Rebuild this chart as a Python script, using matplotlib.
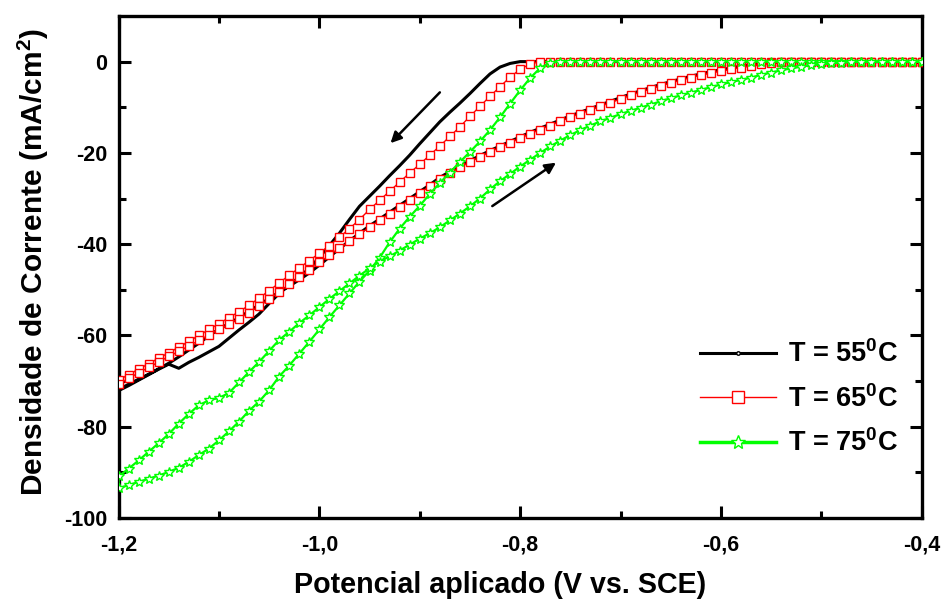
import numpy as np
import matplotlib
matplotlib.use("Agg")
import matplotlib.pyplot as plt
from matplotlib.lines import Line2D

plt.rcParams['font.family'] = ['Liberation Sans', 'DejaVu Sans']
plt.rcParams['font.weight'] = 'bold'
plt.rcParams['mathtext.fontset'] = 'custom'
plt.rcParams['mathtext.rm'] = 'Liberation Sans:bold'
plt.rcParams['mathtext.bf'] = 'Liberation Sans:bold'
plt.rcParams['mathtext.default'] = 'bf'
plt.rcParams['axes.unicode_minus'] = False

# potential grid (V vs SCE), -1.20 ... -0.40
potential = np.round(np.arange(-1.20, -0.395, 0.01), 2)

# T = 55 C : cathodic (forward) sweep and return sweep, values ordered from -1.20 to -0.40
j55_forward = [-72.1, -71.0, -69.8, -68.6, -67.4, -66.3, -67.2, -65.9, -64.8, -63.6,
               -62.4, -60.6, -58.8, -57.1, -55.3, -53.0, -50.8, -49.0, -47.2, -45.3,
               -42.9, -40.3, -37.6, -34.6, -31.7, -29.5, -27.3, -25.0, -22.8, -20.5,
               -18.0, -15.6, -13.2, -11.1, -9.1, -7.0, -4.8, -2.7, -1.2, -0.4] + [0.0] * 41
j55_return = [-71.9, -70.7, -69.6, -68.5, -67.3, -66.1, -64.7, -63.2, -61.7, -60.1,
              -58.6, -57.4, -56.1, -54.7, -53.3, -51.9, -50.5, -49.2, -47.8, -46.3,
              -44.6, -42.8, -41.0, -39.3, -37.6, -36.0, -34.5, -33.0, -31.5, -30.0,
              -28.5, -27.0, -25.4, -24.1, -22.9, -21.7, -20.6, -19.5, -18.5, -17.5,
              -16.5, -15.5, -14.6, -13.7, -12.8, -11.9, -11.1, -10.3, -9.5, -8.7,
              -7.9, -7.1, -6.4, -5.7, -5.0, -4.4, -3.8, -3.2, -2.7, -2.2,
              -1.8, -1.4, -1.0, -0.7, -0.4, -0.2] + [0.0] * 15

# T = 65 C
j65_forward = [-69.8, -68.6, -67.4, -66.2, -65.0, -63.8, -62.6, -61.3, -60.0, -58.7,
               -57.4, -56.1, -54.8, -53.4, -51.8, -50.2, -48.5, -46.8, -45.2, -43.6,
               -42.0, -40.3, -38.5, -36.6, -34.6, -32.4, -30.4, -28.4, -26.4, -24.4,
               -22.5, -20.5, -18.5, -16.4, -14.3, -12.0, -9.8, -7.6, -5.5, -3.4,
               -1.7, -0.5] + [0.0] * 39
j65_return = [-70.6, -69.4, -68.2, -67.0, -65.8, -64.6, -63.5, -62.3, -61.1, -59.9,
              -58.7, -57.5, -56.3, -55.0, -53.6, -52.0, -50.5, -48.8, -47.2, -45.6,
              -44.0, -42.4, -40.9, -39.4, -37.8, -36.3, -34.8, -33.3, -31.8, -30.3,
              -28.8, -27.3, -25.8, -24.5, -23.2, -22.0, -20.9, -19.8, -18.8, -17.8,
              -16.8, -15.8, -14.9, -14.0, -13.1, -12.2, -11.4, -10.6, -9.8, -9.0,
              -8.2, -7.4, -6.7, -6.0, -5.3, -4.7, -4.1, -3.5, -3.0, -2.5,
              -2.1, -1.7, -1.3, -1.0, -0.6, -0.3, -0.1] + [0.0] * 14

# T = 75 C
j75_forward = [-93.5, -92.8, -92.1, -91.4, -90.7, -89.9, -89.0, -87.7, -86.2, -84.8,
               -83.0, -81.0, -78.9, -76.5, -74.5, -72.0, -69.0, -66.6, -64.0, -61.4,
               -58.7, -56.0, -53.4, -50.8, -48.2, -45.8, -43.0, -39.6, -36.6, -34.0,
               -31.6, -29.0, -26.6, -24.3, -22.0, -19.8, -17.5, -15.0, -12.2, -9.2,
               -6.3, -3.6, -1.4, -0.2] + [0.0] * 37
j75_return = [-90.9, -89.2, -87.4, -85.5, -83.6, -81.6, -79.3, -77.2, -75.3, -74.2,
              -73.7, -72.6, -70.3, -68.0, -65.8, -63.4, -61.0, -59.2, -57.3, -55.6,
              -53.8, -52.0, -50.3, -48.6, -46.9, -45.3, -43.8, -42.7, -41.4, -40.1,
              -38.8, -37.6, -36.3, -34.8, -33.3, -31.7, -30.0, -28.0, -26.2, -24.6,
              -23.0, -21.5, -20.0, -18.6, -17.3, -16.1, -15.0, -14.0, -13.1, -12.3,
              -11.5, -10.8, -10.1, -9.4, -8.7, -8.0, -7.4, -6.8, -6.2, -5.6,
              -5.0, -4.5, -4.0, -3.5, -2.9, -2.4, -1.9, -1.5, -1.1, -0.8,
              -0.6, -0.4, -0.2, -0.1] + [0.0] * 7

labels = [r'T = 55$^0$C', r'T = 65$^0$C', r'T = 75$^0$C']
xticks = [-1.2, -1.0, -0.8, -0.6, -0.4]
xticklabels = ['-1,2', '-1,0', '-0,8', '-0,6', '-0,4']
yticks = [0, -20, -40, -60, -80, -100]

GREEN = '#00ff00'


def loop(fwd, ret):
    x = np.concatenate([potential[::-1], potential])
    y = np.concatenate([np.array(fwd)[::-1], np.array(ret)])
    return x, y


fig = plt.figure(figsize=(9.43, 6.03), dpi=100)
ax = fig.add_axes([0.1257, 0.141, 0.8517, 0.8325])

x55, y55 = loop(j55_forward, j55_return)
x65, y65 = loop(j65_forward, j65_return)
x75, y75 = loop(j75_forward, j75_return)

ax.plot(x55, y55, color='black', lw=2.2, zorder=2)
ax.plot(x65, y65, color='red', lw=1.0, marker='s', ms=6.3, mfc='white', mec='red', mew=1.0, zorder=3)
ax.plot(x75, y75, color=GREEN, lw=1.6, marker='*', ms=7.5, mfc='white', mec=GREEN, mew=1.0, zorder=4)

ax.set_xlim(-1.2, -0.4)
ax.set_ylim(-100, 10)
ax.set_xticks(xticks)
ax.set_xticklabels(xticklabels)
ax.set_xticks(np.arange(-1.1, -0.4, 0.2), minor=True)
ax.set_yticks(yticks)
ax.set_yticks(np.arange(-90, 10, 20), minor=True)
ax.tick_params(which='both', direction='in', top=True, right=True, width=2.2,
               labelsize=15.5)
ax.tick_params(which='major', length=8.5)
ax.tick_params(which='minor', length=5)
ax.tick_params(axis='x', which='major', pad=12)
ax.tick_params(axis='y', which='major', pad=8)
for s in ax.spines.values():
    s.set_linewidth(2.4)
for lab in ax.get_xticklabels() + ax.get_yticklabels():
    lab.set_fontweight('bold')

ax.set_xlabel('Potencial aplicado (V vs. SCE)', fontsize=20.6, fontweight='bold')
ax.xaxis.set_label_coords(0.475, -0.105)
ax.set_ylabel(r'Densidade de Corrente (mA/cm$^2$)', fontsize=21.5, fontweight='bold')
ax.yaxis.set_label_coords(-0.084, 0.51)

# arrows showing scan direction
ax.annotate('', xy=(-0.931, -18.3), xytext=(-0.878, -6.3),
            arrowprops=dict(arrowstyle='-|>', color='black', lw=1.8, mutation_scale=16))
ax.annotate('', xy=(-0.762, -21.8), xytext=(-0.830, -32.0),
            arrowprops=dict(arrowstyle='-|>', color='black', lw=1.8, mutation_scale=16))

handles = [
    Line2D([], [], color='black', lw=2.2, marker='o', ms=2.5, mfc='white', mec='black'),
    Line2D([], [], color='red', lw=1.0, marker='s', ms=9, mfc='white', mec='red'),
    Line2D([], [], color=GREEN, lw=2.5, marker='*', ms=10, mfc='white', mec=GREEN),
]
leg = ax.legend(handles, labels, loc='center left', bbox_to_anchor=(0.694, 0.237),
                frameon=False, fontsize=19.5, handlelength=2.8, handletextpad=0.44,
                labelspacing=0.62, numpoints=1)
for t in leg.get_texts():
    t.set_fontweight('bold')

fig.savefig('out.png', dpi=100)
